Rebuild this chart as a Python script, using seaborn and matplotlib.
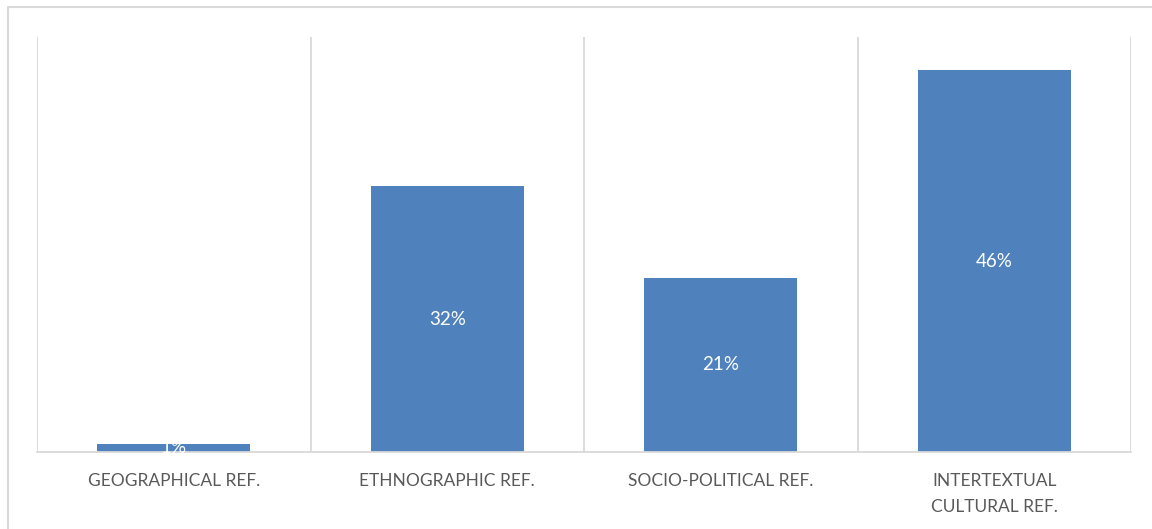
import matplotlib
matplotlib.use("Agg")
import matplotlib.pyplot as plt
import seaborn as sns
import pandas as pd
from matplotlib.lines import Line2D

categories = ["GEOGRAPHICAL REF.", "ETHNOGRAPHIC REF.", "SOCIO-POLITICAL REF.", "INTERTEXTUAL\nCULTURAL REF."]
values = [1, 32, 21, 46]
value_labels = ["1%", "32%", "21%", "46%"]

sns.set_theme(style="white")
plt.rcParams["font.family"] = ["Lato", "DejaVu Sans"]

df = pd.DataFrame({"category": categories, "value": values})

fig = plt.figure(figsize=(11.52, 5.29), dpi=100)
ax = fig.add_axes([37/1152, 1 - 452/529, (1131-37)/1152, (452-37)/529])

sns.barplot(data=df, x="category", y="value", color="#4f81bd", width=0.56,
            saturation=1, ax=ax, edgecolor="none")

ax.set_ylim(0, 50)
ax.set_xlim(-0.5, len(categories) - 0.5)
ax.set_xlabel("")
ax.set_ylabel("")
ax.set_yticks([])

# vertical category boundary gridlines
for b in [i - 0.5 for i in range(len(categories) + 1)]:
    ax.axvline(b, color="#d9d9d9", lw=1.3, zorder=0)

for s in ["top", "left", "right"]:
    ax.spines[s].set_visible(False)
ax.spines["bottom"].set_color("#d9d9d9")
ax.spines["bottom"].set_linewidth(1.3)

ax.tick_params(axis="x", length=0, pad=15)
ax.set_xticks(range(len(categories)))
ax.set_xticklabels(categories, fontsize=12.5, color="#595959", linespacing=1.8)

for p, lab in zip(ax.patches, value_labels):
    ax.text(p.get_x() + p.get_width() / 2, p.get_height() / 2, lab,
            ha="center", va="center", color="white", fontsize=13.5)

# outer chart border (light gray)
fig.add_artist(Line2D([8/1152, 1.0], [1 - 7/529, 1 - 7/529], color="#d9d9d9", lw=1.5, transform=fig.transFigure))
fig.add_artist(Line2D([8/1152, 8/1152], [0.0, 1 - 7/529], color="#d9d9d9", lw=1.5, transform=fig.transFigure))

fig.savefig("out.png", dpi=100)
